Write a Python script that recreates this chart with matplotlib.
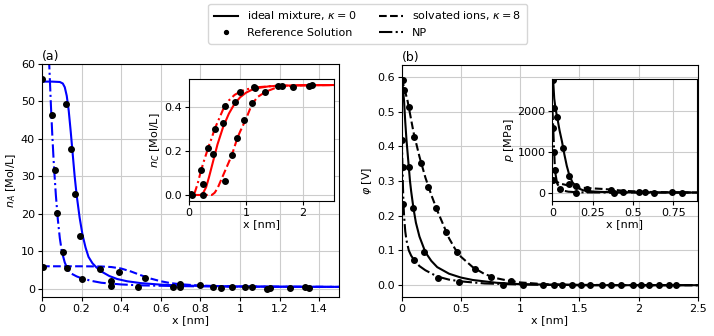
import matplotlib
matplotlib.use("Agg")
import matplotlib.pyplot as plt
from matplotlib.ticker import FormatStrFormatter
from matplotlib.lines import Line2D

# ---------------- Panel (a): n_A ----------------
a_ideal_x = [0, 0.05, 0.09, 0.105, 0.115, 0.125, 0.135, 0.145, 0.155, 0.165, 0.175, 0.19, 0.205, 0.22,
             0.235, 0.255, 0.275, 0.3, 0.34, 0.38, 0.43, 0.5, 0.6, 0.7, 0.8, 1.0, 1.2, 1.5]
a_ideal_y = [55.3, 55.3, 55.2, 54.8, 53.8, 51.5, 47.5, 42, 36, 30, 25, 19, 14.3, 11,
             8.5, 6.8, 5.7, 4.6, 3.4, 2.6, 2.0, 1.5, 1.1, 0.9, 0.75, 0.62, 0.55, 0.5]
a_solv_x = [0, 0.1, 0.2, 0.3, 0.35, 0.4, 0.45, 0.5, 0.55, 0.6, 0.65, 0.7, 0.8, 0.9, 1.0, 1.2, 1.5]
a_solv_y = [6.0, 6.0, 6.0, 5.95, 5.8, 5.4, 4.6, 3.6, 2.7, 2.0, 1.5, 1.2, 0.85, 0.7, 0.6, 0.55, 0.5]
a_np_x = [0.03, 0.038, 0.045, 0.052, 0.06, 0.07, 0.08, 0.09, 0.1, 0.115, 0.13, 0.15, 0.175, 0.2,
          0.25, 0.3, 0.4, 0.5, 0.7, 1.0, 1.5]
a_np_y = [68, 58, 49, 41, 33, 25, 18.5, 13.5, 10, 7, 5.2, 4, 3.3, 2.8,
          2.1, 1.6, 1.15, 0.9, 0.7, 0.55, 0.5]

a_ref_ideal_x = [0.0, 0.12, 0.145, 0.167, 0.192, 0.347, 0.8, 0.961, 1.059, 1.253, 1.35]
a_ref_ideal_y = [55.9, 49.2, 37.3, 25.2, 14.2, 2.0, 0.9, 0.4, 0.4, 0.2, 0.1]
a_ref_solv_x = [0.003, 0.293, 0.388, 0.521, 0.698, 0.863, 1.025, 1.153, 1.329]
a_ref_solv_y = [5.9, 5.2, 4.5, 3.0, 1.2, 0.5, 0.5, 0.2, 0.4]
a_ref_np_x = [0.049, 0.064, 0.076, 0.106, 0.126, 0.2, 0.347, 0.486, 0.664, 0.698, 0.905, 1.135]
a_ref_np_y = [46.4, 31.7, 20.3, 9.9, 5.6, 2.7, 0.8, 0.5, 0.5, 0.4, 0.2, 0.0]

# inset (a): n_C
c_ideal_x = [0, 0.2, 0.25, 0.3, 0.35, 0.4, 0.45, 0.5, 0.55, 0.6, 0.7, 0.8, 0.9, 1.0, 1.1, 1.2, 1.4, 1.6, 2.0, 2.55]
c_ideal_y = [0, 0.0, 0.01, 0.035, 0.08, 0.13, 0.18, 0.23, 0.27, 0.31, 0.37, 0.415, 0.445, 0.465, 0.478,
             0.486, 0.494, 0.497, 0.499, 0.5]
c_np_x = [0, 0.05, 0.1, 0.15, 0.2, 0.25, 0.3, 0.35, 0.4, 0.45, 0.5, 0.6, 0.7, 0.8, 0.9, 1.0, 1.2, 1.5, 2.0, 2.55]
c_np_y = [0, 0.0, 0.01, 0.05, 0.1, 0.145, 0.185, 0.225, 0.26, 0.3, 0.33, 0.39, 0.43, 0.455, 0.47, 0.48,
          0.49, 0.496, 0.499, 0.5]
c_solv_x = [0, 0.4, 0.45, 0.5, 0.55, 0.6, 0.65, 0.7, 0.75, 0.8, 0.85, 0.9, 1.0, 1.1, 1.2, 1.35, 1.5, 1.7, 2.0, 2.55]
c_solv_y = [0, 0.0, 0.01, 0.03, 0.06, 0.09, 0.12, 0.15, 0.18, 0.22, 0.26, 0.29, 0.345, 0.41, 0.445,
            0.47, 0.485, 0.494, 0.499, 0.5]
c_ref_ideal_x = [0.04, 0.25, 0.426, 0.595, 0.816, 1.16, 1.56, 2.15]
c_ref_ideal_y = [0.006, 0.05, 0.186, 0.329, 0.424, 0.488, 0.497, 0.498]
c_ref_np_x = [0.21, 0.34, 0.455, 0.64, 0.90, 1.14]
c_ref_np_y = [0.114, 0.212, 0.30, 0.405, 0.468, 0.49]
c_ref_solv_x = [0.06, 0.24, 0.64, 0.76, 0.85, 0.97, 1.11, 1.34, 1.64, 1.82, 2.11]
c_ref_solv_y = [0.0, 0.0, 0.064, 0.18, 0.26, 0.343, 0.418, 0.468, 0.497, 0.492, 0.497]

# ---------------- Panel (b): phi ----------------
b_ideal_x = [0, 0.01, 0.02, 0.03, 0.04, 0.05, 0.06, 0.07, 0.08, 0.1, 0.12, 0.15, 0.2, 0.25, 0.3,
             0.4, 0.5, 0.6, 0.8, 1.0, 1.5, 2.0, 2.5]
b_ideal_y = [0.595, 0.57, 0.53, 0.47, 0.42, 0.38, 0.34, 0.30, 0.27, 0.22, 0.18, 0.14, 0.095, 0.07, 0.052,
             0.033, 0.022, 0.015, 0.007, 0.003, 0.0, 0.0, 0.0]
b_solv_x = [0, 0.02, 0.05, 0.1, 0.15, 0.2, 0.25, 0.3, 0.35, 0.4, 0.45, 0.5, 0.6, 0.7, 0.8, 0.9, 1.0,
            1.2, 1.5, 2.0, 2.5]
b_solv_y = [0.595, 0.57, 0.53, 0.44, 0.37, 0.31, 0.26, 0.215, 0.175, 0.135, 0.105, 0.082, 0.052, 0.032,
            0.02, 0.013, 0.008, 0.003, 0.001, 0, 0]
b_np_x = [0, 0.005, 0.01, 0.015, 0.02, 0.03, 0.04, 0.06, 0.08, 0.1, 0.15, 0.2, 0.3, 0.4, 0.5, 0.7,
          1.0, 1.5, 2.5]
b_np_y = [0.43, 0.36, 0.29, 0.235, 0.2, 0.155, 0.13, 0.1, 0.085, 0.075, 0.055, 0.043, 0.025, 0.016,
          0.011, 0.005, 0.002, 0.0, 0.0]
b_ref_ideal_x = [0.011, 0.059, 0.098, 0.185, 1.025, 1.287, 1.517, 1.77, 2.017, 2.261]
b_ref_ideal_y = [0.592, 0.341, 0.223, 0.095, 0.001, 0.0, 0.0, 0.0, 0.0, 0.0]
b_ref_solv_x = [0.017, 0.062, 0.107, 0.163, 0.225, 0.289, 0.371, 0.466, 0.615, 0.753, 0.927,
                1.194, 1.438, 1.691, 1.952, 2.177]
b_ref_solv_y = [0.562, 0.514, 0.427, 0.353, 0.283, 0.221, 0.154, 0.096, 0.047, 0.024, 0.012,
                0.0, 0.0, 0.0, 0.0, 0.0]
b_ref_np_x = [0.006, 0.008, 0.011, 0.104, 0.303, 0.486, 0.857, 1.354, 1.587, 1.854, 2.087, 2.317]
b_ref_np_y = [0.418, 0.34, 0.235, 0.072, 0.022, 0.0096, 0.001, 0.0, 0.0, 0.0, 0.0, 0.0]

# inset (b): pressure
p_ideal_x = [0, 0.006, 0.012, 0.02, 0.031, 0.045, 0.06, 0.075, 0.09, 0.106, 0.125, 0.147, 0.17, 0.19,
             0.25, 0.3, 0.4, 0.6, 0.9]
p_ideal_y = [2770, 2700, 2300, 2050, 1830, 1520, 1250, 930, 650, 420, 250, 155, 90, 57, 25, 15, 6, 2, 0]
p_solv_x = [0, 0.006, 0.03, 0.048, 0.08, 0.11, 0.14, 0.17, 0.22, 0.265, 0.31, 0.36, 0.45, 0.6, 0.75, 0.9]
p_solv_y = [330, 318, 260, 220, 190, 163, 140, 122, 108, 98, 88, 73, 40, 15, 5, 0]
p_np_x = [0.0, 0.003, 0.006, 0.009, 0.012, 0.015, 0.02, 0.03, 0.048, 0.07, 0.1, 0.15, 0.2, 0.3, 0.9]
p_np_y = [2100, 1850, 1567, 1250, 980, 700, 450, 220, 98, 45, 20, 8, 3, 1, 0]
p_ref_ideal_x = [0.006, 0.012, 0.031, 0.068, 0.106, 0.147, 0.44, 0.577]
p_ref_ideal_y = [2750, 2057, 1837, 1078, 400, 163, 15, 5]
p_ref_solv_x = [0.002, 0.104, 0.218, 0.363, 0.54, 0.743]
p_ref_solv_y = [318, 220, 98, 73, 20, 5]
p_ref_np_x = [0.006, 0.008, 0.015, 0.048, 0.15, 0.386, 0.629, 0.805]
p_ref_np_y = [1567, 980, 547, 98, 0, 0, 0, 0]

FS = 8
plt.rcParams['font.size'] = FS
LW = 1.5
MS = 4

fig = plt.figure(figsize=(7.14, 3.36), dpi=100)
W, H = 714, 336


def add_ax(l, t, r, b):
    return fig.add_axes([l / W, 1 - b / H, (r - l) / W, (b - t) / H])


ax_a = add_ax(42, 64, 339, 297)
ax_b = add_ax(401.7, 65, 697.7, 297)
in_a = add_ax(189, 79.3, 334.3, 200.7)
in_b = add_ax(552.3, 79.3, 697.3, 200.7)


def draw(ax, c, lines, refs):
    styles = ['-', '--', '-.']
    for (x, y), ls in zip(lines, styles):
        ax.plot(x, y, color=c, ls=ls, lw=LW)
    for x, y in refs:
        ax.plot(x, y, 'o', color='black', ms=MS, ls='none')


draw(ax_a, 'blue',
     [(a_ideal_x, a_ideal_y), (a_solv_x, a_solv_y), (a_np_x, a_np_y)],
     [(a_ref_ideal_x, a_ref_ideal_y), (a_ref_solv_x, a_ref_solv_y), (a_ref_np_x, a_ref_np_y)])
draw(in_a, 'red',
     [(c_ideal_x, c_ideal_y), (c_solv_x, c_solv_y), (c_np_x, c_np_y)],
     [(c_ref_ideal_x, c_ref_ideal_y), (c_ref_solv_x, c_ref_solv_y), (c_ref_np_x, c_ref_np_y)])
draw(ax_b, 'black',
     [(b_ideal_x, b_ideal_y), (b_solv_x, b_solv_y), (b_np_x, b_np_y)],
     [(b_ref_ideal_x, b_ref_ideal_y), (b_ref_solv_x, b_ref_solv_y), (b_ref_np_x, b_ref_np_y)])
draw(in_b, 'black',
     [(p_ideal_x, p_ideal_y), (p_solv_x, p_solv_y), (p_np_x, p_np_y)],
     [(p_ref_ideal_x, p_ref_ideal_y), (p_ref_solv_x, p_ref_solv_y), (p_ref_np_x, p_ref_np_y)])

ax_a.set_xlim(0, 1.5)
ax_a.set_ylim(-2.2, 60)
ax_a.set_xticks([0, 0.2, 0.4, 0.6, 0.8, 1.0, 1.2, 1.4])
ax_a.set_yticks([0, 10, 20, 30, 40, 50, 60])
ax_a.xaxis.set_major_formatter(FormatStrFormatter('%g'))
ax_a.set_xlabel('x [nm]', labelpad=1)
ax_a.set_ylabel('$n_A$ [Mol/L]', labelpad=2)
ax_a.set_title('(a)', loc='left', fontsize=FS + 1, pad=3)

in_a.set_xlim(0, 2.55)
in_a.set_ylim(-0.026, 0.526)
in_a.set_xticks([0, 1, 2])
in_a.set_yticks([0.0, 0.2, 0.4])
in_a.set_xlabel('x [nm]', labelpad=1)
in_a.set_ylabel('$n_C$ [Mol/L]', labelpad=2)

ax_b.set_xlim(0, 2.5)
ax_b.set_ylim(-0.034, 0.634)
ax_b.set_xticks([0, 0.5, 1, 1.5, 2, 2.5])
ax_b.set_yticks([0.0, 0.1, 0.2, 0.3, 0.4, 0.5, 0.6])
ax_b.xaxis.set_major_formatter(FormatStrFormatter('%g'))
ax_b.set_xlabel('x [nm]', labelpad=1)
ax_b.set_ylabel(r'$\varphi$ [V]', labelpad=2)
ax_b.set_title('(b)', loc='left', fontsize=FS + 1, pad=3)

in_b.set_xlim(0, 0.9)
in_b.set_ylim(-200, 2770)
in_b.set_xticks([0, 0.25, 0.5, 0.75])
in_b.set_yticks([0, 1000, 2000])
in_b.xaxis.set_major_formatter(FormatStrFormatter('%g'))
in_b.set_xlabel('x [nm]', labelpad=1)
in_b.set_ylabel('$p$ [MPa]', labelpad=1)

for ax in (ax_a, ax_b, in_a, in_b):
    ax.grid(True, color='#cccccc', lw=0.8)
    ax.set_axisbelow(True)
    ax.tick_params(labelsize=FS, pad=2, length=3)

handles = [
    Line2D([], [], color='black', ls='-', lw=LW),
    Line2D([], [], color='black', marker='o', ls='none', ms=MS * 0.7),
    Line2D([], [], color='black', ls='--', lw=LW),
    Line2D([], [], color='black', ls='-.', lw=LW),
]
labels = [r'ideal mixture, $\kappa = 0$', 'Reference Solution',
          r'solvated ions, $\kappa = 8$', 'NP']
fig.legend(handles, labels, loc='upper center', bbox_to_anchor=(0.515, 1.005), ncol=2,
           fontsize=FS, frameon=True, handlelength=2.2, columnspacing=2.0,
           borderpad=0.5, labelspacing=0.5)

fig.savefig('out.png', dpi=100)
